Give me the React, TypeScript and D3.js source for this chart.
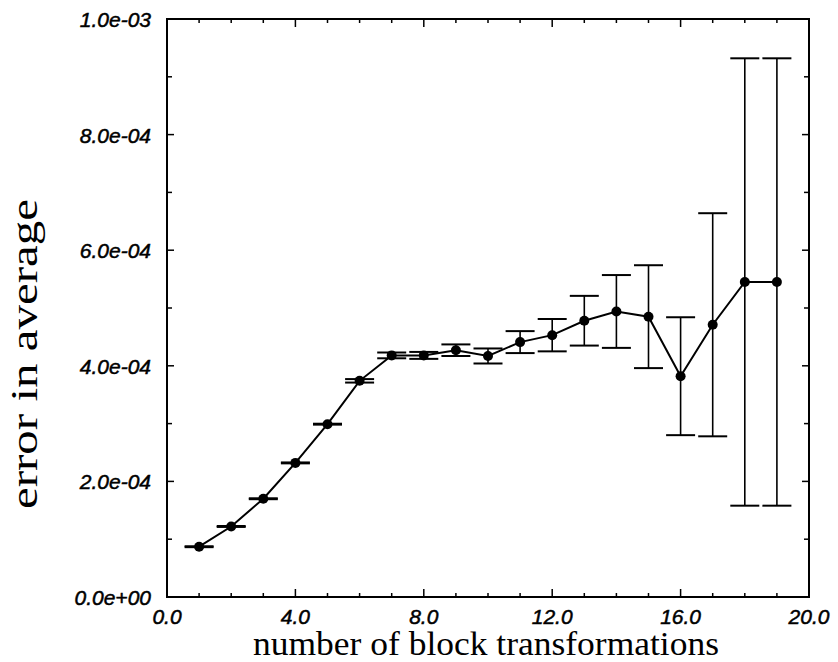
import React from "react";
import * as d3 from "d3";

const blocks = [1, 2, 3, 4, 5, 6, 7, 8, 9, 10, 11, 12, 13, 14, 15, 16, 17, 18, 19];
const meanErr = [0.87, 1.22, 1.70, 2.32, 2.99, 3.74, 4.18, 4.18, 4.27, 4.17, 4.41, 4.53, 4.78, 4.94, 4.85, 3.82, 4.71, 5.45, 5.45].map((v) => v * 1e-4);
const errBar = [0.008, 0.008, 0.008, 0.008, 0.008, 0.03, 0.05, 0.06, 0.1, 0.13, 0.19, 0.28, 0.43, 0.63, 0.89, 1.02, 1.93, 3.87, 3.87].map((v) => v * 1e-4);

const xMajor = [0, 4, 8, 12, 16, 20];
const xMajorLabels = ["0.0", "4.0", "8.0", "12.0", "16.0", "20.0"];
const xMinor = d3.range(0, 21, 1);
const yMajor = [0, 2e-4, 4e-4, 6e-4, 8e-4, 1e-3];
const yMajorLabels = ["0.0e+00", "2.0e-04", "4.0e-04", "6.0e-04", "8.0e-04", "1.0e-03"];
const yMinor = d3.range(0, 11, 1).map((v) => v * 1e-4);

const W = 838;
const H = 662;
const left = 167;
const right = 809;
const top = 19;
const bottom = 597;

export default function App() {
  const x = d3.scaleLinear().domain([0, 20]).range([left, right]);
  const y = d3.scaleLinear().domain([0, 1e-3]).range([bottom, top]);
  const pts = blocks.map((b, i) => ({ b, m: meanErr[i], e: errBar[i] }));
  const line = d3
    .line<{ b: number; m: number }>()
    .x((d) => x(d.b))
    .y((d) => y(d.m));
  const cap = 14.5;
  const tickFont = "'Liberation Sans', Arial, sans-serif";
  const serif = "'Liberation Serif', 'Times New Roman', serif";

  return (
    <svg
      width={W}
      height={H}
      style={{ position: "absolute", left: 0, top: 0, background: "#fff" }}
    >
      <rect x={0} y={0} width={W} height={H} fill="#fff" />
      {xMinor.map((v) => {
        const major = v % 4 === 0;
        const len = major ? 8 : 4;
        return (
          <g key={"xt" + v} stroke="#000" strokeWidth={1.5}>
            <line x1={x(v)} x2={x(v)} y1={bottom} y2={bottom - len} />
            <line x1={x(v)} x2={x(v)} y1={top} y2={top + len} />
          </g>
        );
      })}
      {yMinor.map((v, i) => {
        const major = i % 2 === 0;
        const len = major ? 7 : 5;
        return (
          <g key={"yt" + i} stroke="#000" strokeWidth={1.5}>
            <line x1={left} x2={left + len} y1={y(v)} y2={y(v)} />
            <line x1={right} x2={right - len} y1={y(v)} y2={y(v)} />
          </g>
        );
      })}
      <rect
        x={left}
        y={top}
        width={right - left}
        height={bottom - top}
        fill="none"
        stroke="#000"
        strokeWidth={2}
      />
      {xMajor.map((v, i) => (
        <text
          key={"xl" + v}
          x={x(v)}
          y={624}
          textAnchor="middle"
          fontFamily={tickFont}
          fontStyle="italic"
          fontSize={21}
          fill="#000"
          stroke="#000"
          strokeWidth={0.5}
        >
          {xMajorLabels[i]}
        </text>
      ))}
      {yMajor.map((v, i) => (
        <text
          key={"yl" + i}
          x={151}
          y={y(v) + 8}
          textAnchor="end"
          fontFamily={tickFont}
          fontStyle="italic"
          fontSize={21}
          fill="#000"
          stroke="#000"
          strokeWidth={0.5}
        >
          {yMajorLabels[i]}
        </text>
      ))}
      {pts.map((p) => (
        <g key={"eb" + p.b} stroke="#000">
          <line
            x1={x(p.b)}
            x2={x(p.b)}
            y1={y(p.m - p.e)}
            y2={y(p.m + p.e)}
            strokeWidth={1.6}
          />
          <line
            x1={x(p.b) - cap}
            x2={x(p.b) + cap}
            y1={y(p.m + p.e)}
            y2={y(p.m + p.e)}
            strokeWidth={2}
          />
          <line
            x1={x(p.b) - cap}
            x2={x(p.b) + cap}
            y1={y(p.m - p.e)}
            y2={y(p.m - p.e)}
            strokeWidth={2}
          />
        </g>
      ))}
      <path d={line(pts) || ""} fill="none" stroke="#000" strokeWidth={2} />
      {pts.map((p) => (
        <circle key={"pt" + p.b} cx={x(p.b)} cy={y(p.m)} r={5} fill="#000" />
      ))}
      <text
        x={486}
        y={655}
        textAnchor="middle"
        fontFamily={serif}
        fontSize={34}
        textLength={466}
        lengthAdjust="spacingAndGlyphs"
        fill="#000"
      >
        number of block transformations
      </text>
      <text
        transform={`translate(37, 354) rotate(-90)`}
        textAnchor="middle"
        fontFamily={serif}
        fontSize={38}
        textLength={310}
        lengthAdjust="spacingAndGlyphs"
        fill="#000"
      >
        error in average
      </text>
    </svg>
  );
}
